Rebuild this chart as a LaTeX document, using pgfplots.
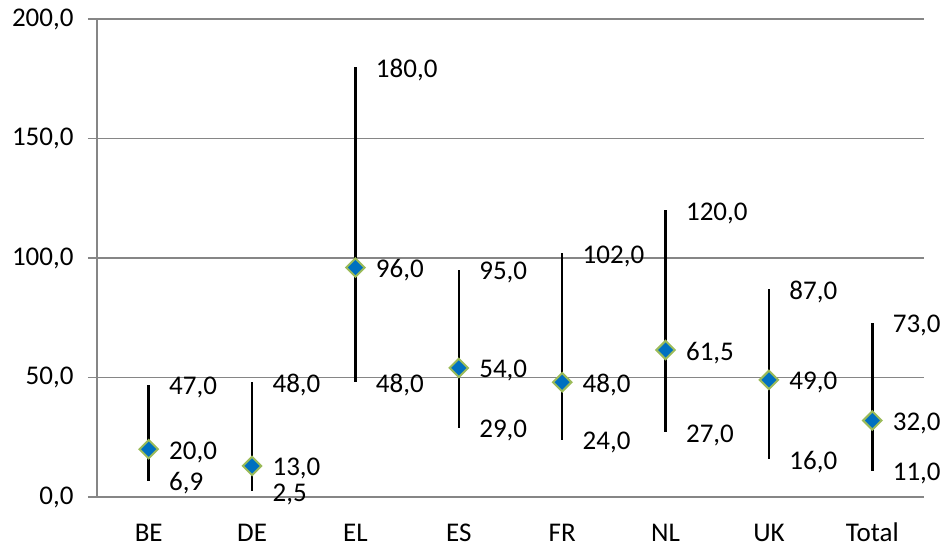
\documentclass[border=0pt]{standalone}
\usepackage{fontspec}
\setmainfont{Carlito}
\usepackage{pgfplots}
\pgfplotsset{compat=1.18}
\usepackage{pgfplotstable}
\definecolor{gridgray}{RGB}{134,134,134}
\definecolor{diamondblue}{RGB}{0,112,192}
\definecolor{diamondgreen}{RGB}{155,187,89}
\pgfkeys{/pgf/number format/.cd, fixed, fixed zerofill, precision=1, use comma, assume math mode=true}

% low / median / high per country
\pgfplotstableread{
x low med high
0 6.9 20 47
1 2.5 13 48
2 48 96 180
3 29 54 95
4 24 48 102
5 27 61.5 120
6 16 49 87
7 11 32 73
}\data

\begin{document}
\begin{tikzpicture}[font=\fontsize{27bp}{32bp}\selectfont]
\begin{axis}[
  name=ax,
  scale only axis,
  width=827bp, height=478bp,
  xmin=-0.5, xmax=7.5,
  ymin=0, ymax=200,
  ytick={0,50,...,200},
  xtick={0,...,7},
  xticklabels={BE,DE,EL,ES,FR,NL,UK,Total},
  axis x line*=bottom, axis y line*=left,
  axis line style={draw=gridgray, line width=1.5bp, -},
  ymajorgrids, grid style={draw=gridgray, line width=1.5bp},
  tick align=outside,
  major tick length=9bp,
  y tick style={draw=gridgray, line width=1.5bp},
  x tick style={draw=none},
  yticklabel style={xshift=-11bp},
  xticklabel style={text height=20bp, text depth=6bp, yshift=-12bp},
  clip=false,
]
% high-low lines
\addplot[draw=none, forget plot,
  error bars/.cd, y dir=both, y explicit, error mark=none,
  error bar style={draw=black, solid, line width=2.5bp}]
  table[x=x, y=med, y error plus expr=\thisrow{high}-\thisrow{med},
        y error minus expr=\thisrow{med}-\thisrow{low}] {\data};
% median diamonds
\addplot[only marks, mark=square*, mark size=6.5bp,
  mark options={rotate=45, fill=diamondblue, draw=diamondgreen, line width=2bp}]
  table[x=x, y=med] {\data};
% value labels
\pgfplotsset{every node near coord/.append style={anchor=west, xshift=17bp, yshift=-3bp}}
\addplot[only marks, mark=none, point meta=y, nodes near coords]
  table[x=x, y=high] {\data};
\addplot[only marks, mark=none, point meta=y, nodes near coords]
  table[x=x, y=med] {\data};
\addplot[only marks, mark=none, point meta=y, nodes near coords]
  table[x=x, y=low] {\data};
\end{axis}
\path (ax.south west) ++(-97bp,-53bp) rectangle ++(950bp,550bp);
\end{tikzpicture}
\end{document}
